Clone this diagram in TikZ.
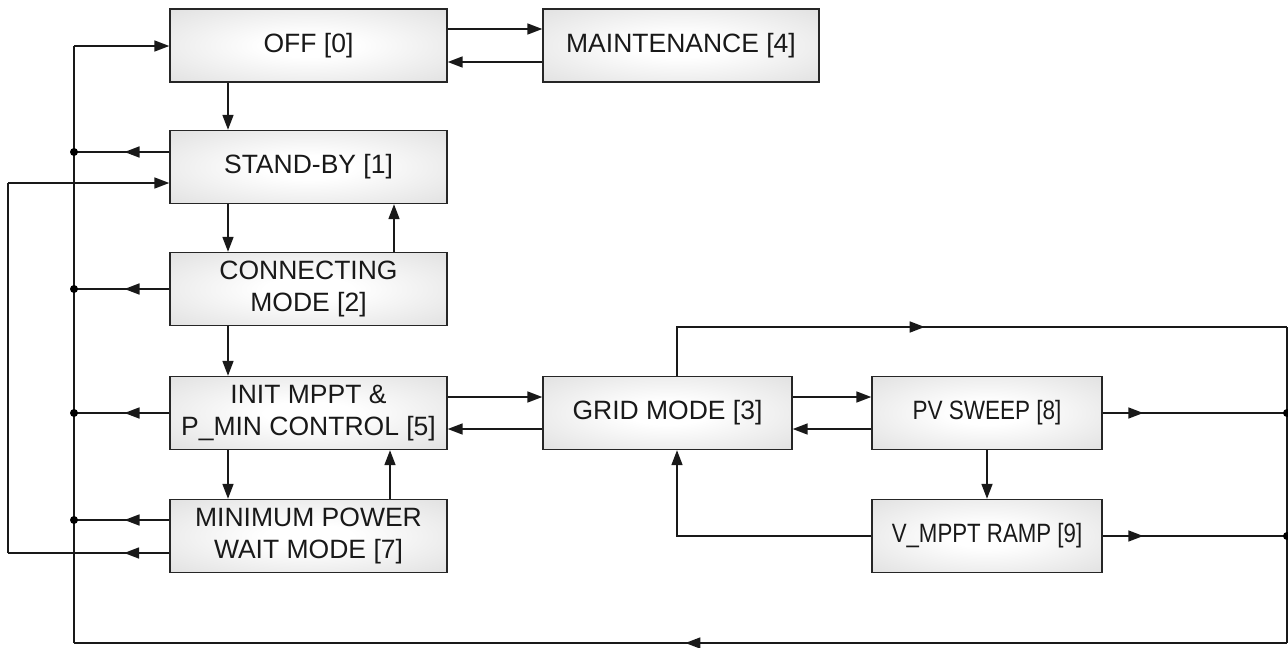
\documentclass[tikz,border=0pt]{standalone}
\usepackage{fontspec}
\setmainfont{Liberation Sans}
\newfontfamily\condA[FakeStretch=0.85]{Liberation Sans}
\newfontfamily\condB[FakeStretch=0.84]{Liberation Sans}
\usetikzlibrary{arrows.meta,decorations.markings}
\pgfdeclareradialshading{boxshade}{\pgfpoint{0bp}{0bp}}{color(0bp)=(white); color(8bp)=(white); color(72bp)=(black!27)}
\begin{document}
\begin{tikzpicture}[x=1pt,y=-1pt,
  box/.style={draw=black!85,line width=1.4pt,shading=boxshade,
    minimum width=277pt,minimum height=73pt,align=center,
    font=\fontsize{26.5}{32}\selectfont,text=black!90,inner sep=0pt},
  line/.style={line width=1.7pt,draw=black!90},
  arr/.style={line,-{Triangle[length=15pt,width=11pt]}},
  mid/.style={line,postaction={decorate},
    decoration={markings,mark=at position #1 with {\arrow{Triangle[length=15pt,width=11pt]}}}},
  dot/.style={circle,fill=black,inner sep=0pt,minimum size=8pt}]
\useasboundingbox (0,0) rectangle (1288,648);

\node[box] (off) at (308.5,45.5) {OFF [0]};
\node[box,minimum width=276pt] (maint) at (681,45.5) {MAINTENANCE [4]};
\node[box] (stand) at (308.5,167) {STAND-BY [1]};
\node[box] (conn) at (308.5,289) {CONNECTING\\MODE [2]};
\node[box] (init) at (308.5,413) {INIT MPPT \&\\P\_MIN CONTROL [5]};
\node[box] (minp) at (308.5,536) {MINIMUM POWER\\WAIT MODE [7]};
\node[box,minimum width=249pt] (grid) at (667.5,413) {GRID MODE [3]};
\node[box,minimum width=230pt,font=\condA\fontsize{26.5}{32}\selectfont] (pv) at (987,413) {PV SWEEP [8]};
\node[box,minimum width=230pt,font=\condB\fontsize{26.5}{32}\selectfont] (vm) at (987,536) {V\_MPPT RAMP [9]};

\coordinate (bt) at (74,46);
\coordinate (bb) at (74,643);
\coordinate (ot) at (8,183);
\coordinate (ob) at (8,553);
\coordinate (gt) at (677,327);
\coordinate (rt) at (1287,327);
\coordinate (rb) at (1287,643);
\coordinate (d1) at (74,152);
\coordinate (d2) at (74,289);
\coordinate (d5) at (74,413);
\coordinate (d7) at (74,520);
\coordinate (r8) at (1287,413);
\coordinate (r9) at (1287,536);

% left buses
\draw[line] (bb) -- (bt);
\draw[arr] (bt) -- (bt -| off.west);
\draw[line] (ob) -- (ot);
\draw[arr] (ot) -- (ot -| stand.west);
\draw[mid=0.47] (stand.west |- d1) -- (d1);
\draw[mid=0.47] (conn.west) -- (d2);
\draw[mid=0.47] (init.west) -- (d5);
\draw[mid=0.47] (minp.west |- d7) -- (d7);
\draw[mid=0.28] (minp.west |- ob) -- (ob);

% vertical arrows left column
\draw[arr] ([xshift=-80.5pt]off.south) -- ([xshift=-80.5pt]stand.north);
\draw[arr] ([xshift=-80.5pt]stand.south) -- ([xshift=-80.5pt]conn.north);
\draw[arr] ([xshift=85.5pt]conn.north) -- ([xshift=85.5pt]stand.south);
\draw[arr] ([xshift=-80.5pt]conn.south) -- ([xshift=-80.5pt]init.north);
\draw[arr] ([xshift=-80.5pt]init.south) -- ([xshift=-80.5pt]minp.north);
\draw[arr] ([xshift=81.5pt]minp.north) -- ([xshift=81.5pt]init.south);

% horizontal pairs
\draw[arr] ([yshift=16.5pt]off.east) -- ([yshift=16.5pt]off.east -| maint.west);
\draw[arr] ([yshift=-16.5pt]maint.west) -- ([yshift=-16.5pt]maint.west -| off.east);
\draw[arr] ([yshift=16pt]init.east) -- ([yshift=16pt]init.east -| grid.west);
\draw[arr] ([yshift=-16pt]grid.west) -- ([yshift=-16pt]grid.west -| init.east);
\draw[arr] ([yshift=16pt]grid.east) -- ([yshift=16pt]grid.east -| pv.west);
\draw[arr] ([yshift=-16pt]pv.west) -- ([yshift=-16pt]pv.west -| grid.east);

% right side
\draw[mid=0.45] (grid.north -| gt) -- (gt) -- (rt);
\draw[line] (rt) -- (rb);
\draw[mid=0.22] (pv.east) -- (r8);
\draw[mid=0.22] (vm.east) -- (r9);
\draw[arr] (pv.south) -- (vm.north);
\draw[arr] (vm.west) -- (vm.west -| gt) -- (grid.south -| gt);
\draw[mid=0.496] (rb) -- (bb);

% dots
\foreach \d in {d1,d2,d5,d7,r8,r9} \node[dot] at (\d) {};
\end{tikzpicture}
\end{document}
